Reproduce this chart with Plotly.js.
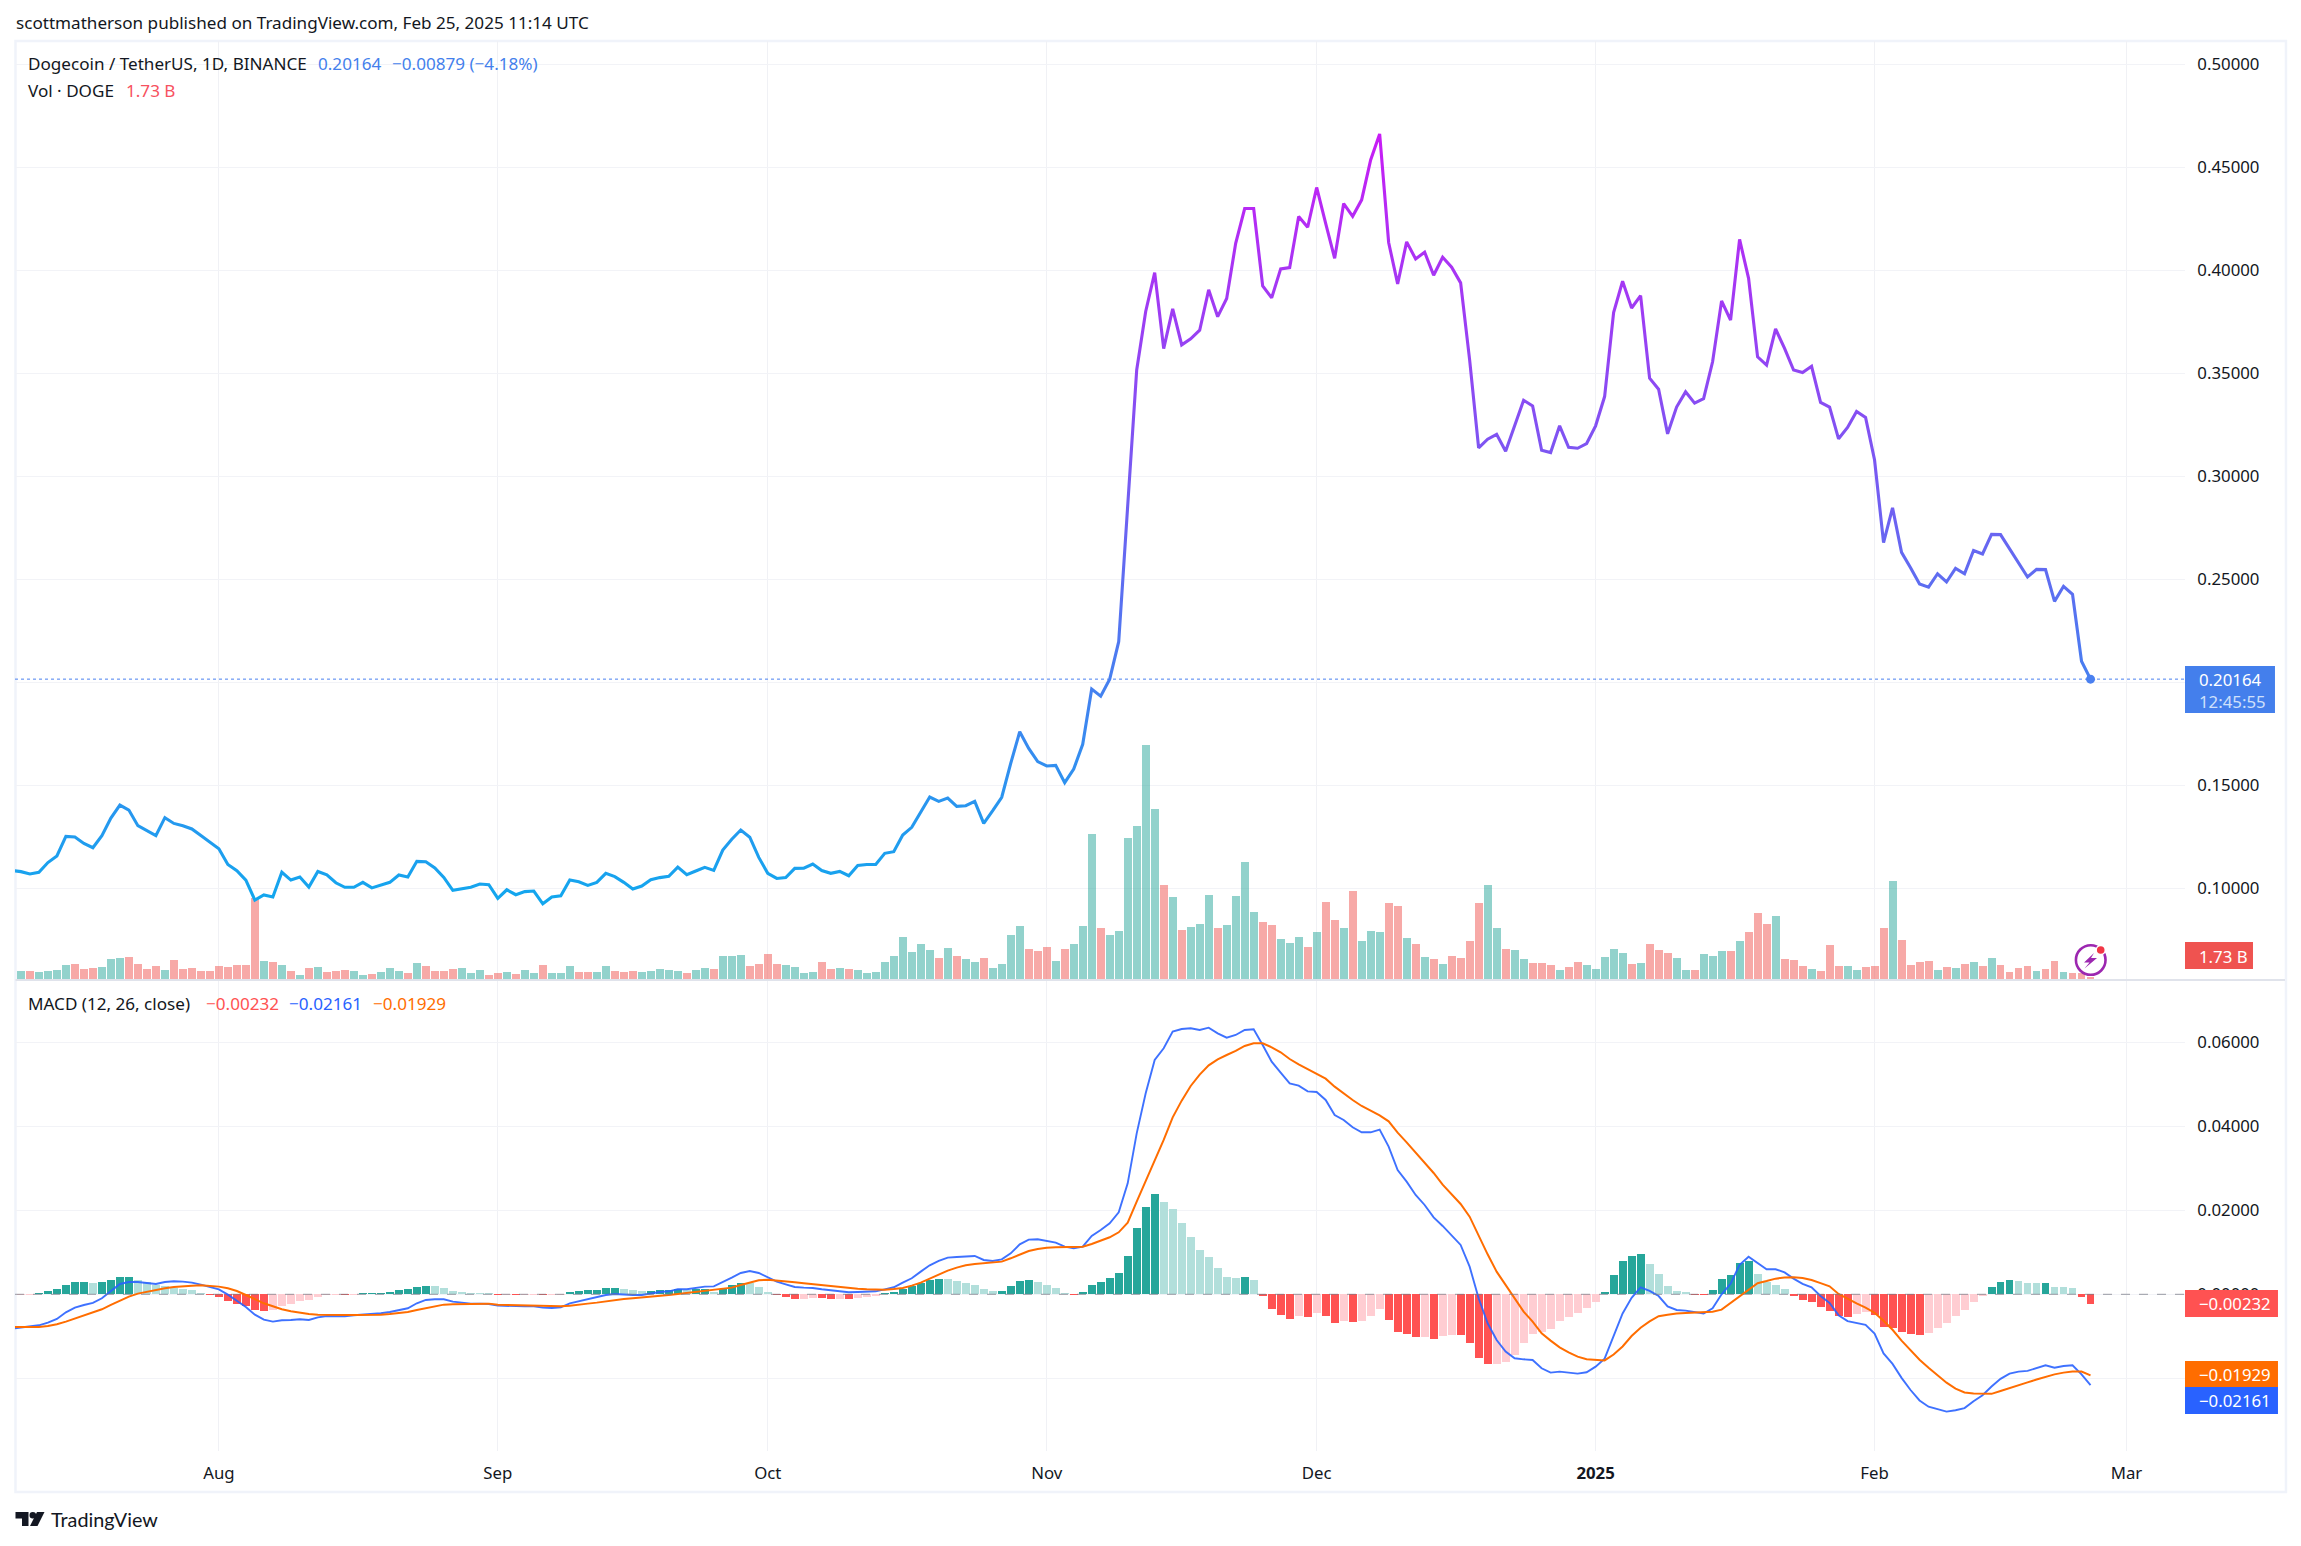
<!DOCTYPE html>
<html><head><meta charset="utf-8">
<script src="https://cdn.plot.ly/plotly-3.0.1.min.js"></script>
<style>html,body{margin:0;padding:0;background:#fff}#chart{width:2301px;height:1546px}</style>
</head><body><div id="chart"></div>
<script>
const firstDay = '2024-07-10';
const monthTicks = ['2024-08-01','2024-09-01','2024-10-01','2024-11-01','2024-12-01','2025-01-01','2025-02-01','2025-03-01'];
const monthLabels = ['Aug','Sep','Oct','Nov','Dec','<b>2025</b>','Feb','Mar'];

/* values of the day before the first bar: the lines run off the left edge of the pane */
const priceBefore = .1088, macdBefore = -.00817, signalBefore = -.00778;

const closePrice = [
.1082,.1071,.1079,.1126,.1158,.1253,.1250,.1219,.1198,.1257,
.1342,.1405,.1381,.1305,.1282,.1257,.1344,.1316,.1305,.1289,
.1257,.1223,.1193,.1117,.1087,.1041,.0944,.0969,.0959,.1079,
.1041,.1056,.1007,.1083,.1067,.1028,.1006,.1006,.1030,.1003,
.1015,.1030,.1066,.1056,.1132,.1130,.1100,.1054,.0991,.0998,
.1006,.1022,.1019,.0952,.0994,.0970,.0985,.0988,.0926,.0959,
.0965,.1041,.1033,.1015,.1030,.1074,.1058,.1030,.0998,.1012,
.1043,.1053,.1059,.1104,.1067,.1085,.1103,.1088,.1187,.1239,
.1284,.1249,.1151,.1074,.1049,.1053,.1098,.1099,.1119,.1087,
.1074,.1083,.1062,.1112,.1117,.1117,.1171,.1179,.1260,.1297,
.1371,.1444,.1423,.1439,.1399,.1402,.1423,.1316,.1378,.1443,
.1608,.1761,.1680,.1616,.1595,.1598,.1514,.1580,.1700,.1968,
.1934,.2016,.2198,.2837,.3517,.3801,.3990,.3621,.3814,.3639,
.3668,.3710,.3906,.3776,.3864,.4132,.4301,.4301,.3925,.3867,
.4008,.4014,.4262,.4210,.4403,.4229,.4059,.4325,.4263,.4343,
.4537,.4663,.4136,.3935,.4139,.4056,.4089,.3977,.4064,.4016,
.3940,.3566,.3139,.3181,.3205,.3123,.3246,.3370,.3343,.3127,
.3116,.3246,.3142,.3137,.3160,.3246,.3388,.3796,.3948,.3818,
.3878,.3477,.3424,.3207,.3337,.3411,.3356,.3378,.3557,.3852,
.3759,.4151,.3962,.3581,.3541,.3716,.3622,.3517,.3505,.3535,
.3360,.3337,.3183,.3238,.3316,.3287,.3080,.2679,.2848,.2632,
.2557,.2478,.2463,.2528,.2488,.2554,.2528,.2641,.2624,.2719,
.2718,.2651,.2580,.2512,.2549,.2548,.2394,.2467,.2428,.2103,
.20164];

const volume = [
.9,.9,.8,.9,1.0,1.5,1.6,1.1,1.2,1.3,
2.1,2.2,2.3,1.6,1.1,1.4,1.0,2.0,1.1,1.2,
.9,.9,1.4,1.3,1.5,1.5,8.2,1.9,1.8,1.5,
.9,.5,1.2,1.3,.8,.9,1.0,.9,.5,.6,
.8,1.2,.9,.7,1.7,1.4,.9,.9,1.1,1.2,
.7,1.0,.5,.7,.8,.6,1.0,.7,1.5,.7,
.7,1.4,.8,.8,.8,1.4,.9,.8,.9,.8,
.9,1.1,1.0,.9,.7,1.0,1.2,1.1,2.4,2.4,
2.5,1.4,1.6,2.6,1.6,1.5,1.3,.7,.8,1.8,
1.1,1.2,1.1,1.0,.7,.8,1.8,2.4,4.3,2.8,
3.6,3.0,2.2,3.2,2.4,2.1,1.8,2.2,1.2,1.6,
4.5,5.4,3.1,2.9,3.3,1.9,3.1,3.6,5.4,14.6,
5.2,4.5,4.9,14.2,15.4,23.5,17.1,9.5,8.3,5.0,
5.3,5.6,8.5,5.2,5.5,8.4,11.8,6.8,5.8,5.5,
4.1,3.7,4.3,3.3,4.8,7.8,6.0,5.2,8.9,3.9,
4.9,4.8,7.7,7.4,4.2,3.6,2.3,2.1,1.6,2.4,
2.2,3.9,7.7,9.5,5.2,3.1,3.0,2.1,1.7,1.7,
1.5,1.0,1.3,1.8,1.5,1.1,2.3,3.1,2.7,1.6,
1.7,3.6,3.0,2.7,2.2,1.0,1.0,2.6,2.4,2.9,
2.9,3.9,4.8,6.7,5.6,6.4,2.1,2.0,1.4,1.1,
.9,3.5,1.4,1.4,1.0,1.3,1.4,5.2,9.9,4.0,
1.5,1.8,1.9,1.0,1.3,1.2,1.6,1.8,1.4,2.2,
1.5,.8,1.2,1.4,.9,1.1,1.9,.8,.7,.7,
.3];

const macdHist = [
-.00024,-.00024,.00024,.00079,.00127,.00222,.00294,.00296,.0027,.00294,
.00341,.00413,.00414,.00341,.00294,.00222,.00198,.00151,.00127,.00103,
.00032,-.00024,-.00071,-.00151,-.0023,-.00278,-.00365,-.00389,-.00365,-.0027,
-.00222,-.00159,-.00135,-.00056,-.00024,-.00016,-.00018,-.00016,.00032,.00033,
.00034,.00056,.00103,.00127,.00175,.00198,.00197,.00151,.00079,.00056,
.00032,.00031,.0003,-.00024,-.00022,-.00026,-.00016,-.00015,-.00024,-.00016,
-.00015,.00048,.00079,.00103,.00104,.00151,.00152,.00127,.00103,.00079,
.00081,.00103,.00104,.00127,.00103,.00127,.00128,.00056,.00127,.00222,
.0027,.00269,.00175,.00056,-.00024,-.00071,-.00111,-.00111,-.00079,-.0008,
-.00111,-.0011,-.00112,-.00079,-.00056,-.00032,.0004,.00063,.00135,.00206,
.00278,.00341,.00365,.00364,.00317,.00278,.0023,.00135,.00087,.00088,
.00206,.00325,.00349,.00302,.0023,.00159,.0004,-.00016,.00063,.0023,
.00302,.00397,.00516,.00921,.01587,.02087,.02397,.02206,.0204,.01706,
.01373,.01063,.00897,.00635,.00421,.00397,.00421,.00349,-.0004,-.00341,
-.00484,-.00579,-.00508,-.00532,-.00437,-.00508,-.00675,-.00627,-.00651,-.00627,
-.00508,-.00341,-.00603,-.00889,-.00937,-.01008,-.01007,-.01056,-.00984,-.0096,
-.00962,-.01151,-.01508,-.01651,-.0165,-.01603,-.01437,-.0116,-.00936,-.00887,
-.00829,-.00638,-.00539,-.00439,-.00331,-.00182,.00058,.00456,.00787,.00912,
.00961,.00729,.00481,.00207,.00083,.00058,-.00008,-.0001,.00108,.00365,
.00456,.00746,.00787,.00481,.00282,.00224,.00124,-.00033,-.00141,-.00174,
-.00307,-.00398,-.00506,-.0053,-.00472,-.00414,-.00497,-.00779,-.00812,-.00887,
-.00936,-.0097,-.00928,-.00812,-.00688,-.00514,-.00373,-.00182,-.00041,.00182,
.0029,.0034,.00315,.00273,.00272,.00275,.00182,.00181,.00149,-.00066,
-.00232];

const macdLine = [
-.00794,-.0077,-.00738,-.00675,-.00587,-.00429,-.00317,-.00254,-.00206,-.00095,
.00079,.00246,.00294,.00294,.0027,.00246,.00294,.0031,.00302,.00278,
.0023,.00183,.00119,-.00008,-.00151,-.00302,-.00484,-.00603,-.00651,-.00619,
-.00611,-.00595,-.00611,-.00548,-.00516,-.00516,-.00524,-.005,-.00484,-.00476,
-.00452,-.00421,-.00373,-.00333,-.00214,-.00135,-.00119,-.00119,-.00175,-.00206,
-.00222,-.00222,-.0023,-.0027,-.00278,-.00294,-.00286,-.00286,-.00317,-.00325,
-.0031,-.00214,-.00167,-.00127,-.00071,-.00016,.00008,-.00008,-.00016,-.00016,
.00024,.00056,.00071,.00119,.00119,.00151,.00183,.0019,.00286,.00397,
.00508,.00556,.00508,.00405,.00302,.00238,.00175,.00159,.00151,.00119,
.00095,.00071,.00048,.00056,.00063,.00071,.00119,.00167,.00278,.00381,
.0054,.0069,.00794,.00873,.00889,.00897,.00913,.00817,.00794,.00833,
.00976,.0119,.01302,.0131,.01278,.0123,.01135,.01095,.01135,.01389,
.01532,.0169,.01952,.02643,.03833,.04786,.05579,.05857,.06254,.06317,
.06333,.06294,.06349,.06214,.06111,.06175,.06294,.0631,.05937,.0554,
.05278,.05024,.04968,.04833,.04817,.04627,.0427,.04151,.03976,.03857,
.03857,.0392,.03516,.0296,.02683,.02365,.02127,.01833,.01627,.01413,
.01175,.00659,-.00095,-.0069,-.01087,-.01365,-.01524,-.01548,-.01563,-.01762,
-.01865,-.01841,-.01873,-.01889,-.01857,-.01722,-.01533,-.00994,-.00456,-.00083,
.00166,.00083,-.00041,-.0029,-.00373,-.00389,-.00431,-.00456,-.00331,0,
.00249,.00704,.00895,.00746,.00597,.00597,.00522,.00373,.00249,.00166,
-.00041,-.00207,-.00497,-.00638,-.00688,-.00729,-.00936,-.01409,-.01657,-.01989,
-.02279,-.02528,-.02677,-.02735,-.02793,-.0276,-.0271,-.02544,-.02403,-.02196,
-.02014,-.01889,-.0184,-.01823,-.01757,-.01691,-.01749,-.01707,-.01691,-.01906,
-.02161];

const signalLine = [
-.00778,-.00778,-.00778,-.00754,-.00714,-.00651,-.00579,-.00508,-.00437,-.00357,
-.00254,-.00151,-.00056,.00016,.00063,.00103,.00143,.00175,.00198,.00206,
.00214,.00206,.00183,.00143,.00079,-.00016,-.00119,-.00214,-.00286,-.00357,
-.00405,-.00444,-.00468,-.00484,-.00492,-.00492,-.00492,-.00492,-.00492,-.00492,
-.00484,-.00468,-.00452,-.00421,-.00373,-.00325,-.00278,-.00246,-.00238,-.0023,
-.0023,-.00222,-.00222,-.00246,-.00254,-.00262,-.0027,-.00278,-.00286,-.00294,
-.00286,-.0027,-.00254,-.00222,-.00198,-.00167,-.00135,-.00111,-.00095,-.00079,
-.00056,-.0004,-.00016,.00008,.00032,.00048,.00071,.00095,.00119,.00159,
.00222,.00286,.00333,.00349,.00333,.0031,.00286,.00262,.00238,.00214,
.0019,.00167,.00143,.00135,.00119,.00111,.00111,.00127,.00151,.00206,
.00278,.00373,.00476,.00563,.00635,.0069,.00722,.00738,.00754,.00778,
.00857,.00952,.01032,.01079,.01111,.01119,.01119,.01119,.01135,.01198,
.01278,.01357,.01476,.01706,.02206,.02683,.03198,.03675,.04214,.04611,
.0496,.0523,.05452,.05595,.05698,.05794,.05913,.05976,.05976,.05881,
.05762,.05603,.05476,.05365,.05254,.05135,.04944,.04778,.04627,.04484,
.04365,.04262,.04119,.03849,.03619,.03373,.03135,.02889,.02611,.02373,
.02151,.01849,.01389,.00952,.0054,.00222,-.00095,-.00413,-.00651,-.00929,
-.01103,-.01262,-.01381,-.01484,-.01548,-.01563,-.01575,-.01434,-.01243,-.00994,
-.00796,-.00646,-.00522,-.00489,-.00456,-.00448,-.00431,-.00431,-.00414,-.00365,
-.00207,-.00041,.00108,.00265,.00315,.00373,.00398,.00406,.0039,.0034,
.00265,.00191,.00008,-.00108,-.00215,-.00315,-.00439,-.0063,-.00845,-.01102,
-.01342,-.01558,-.01749,-.01923,-.02105,-.02246,-.02337,-.02362,-.02362,-.0237,
-.02304,-.02229,-.02155,-.02097,-.0203,-.01964,-.01906,-.01865,-.0184,-.0184,
-.01929];

const priceTicks = [0.10,0.15,0.20,0.25,0.30,0.35,0.40,0.45,0.50];
const macdTicks = [-0.02,0,0.02,0.04,0.06];

const DAY = 86400000;
const startMs = Date.parse(firstDay + 'T00:00:00Z');
const dayStr = i => new Date(startMs + i * DAY).toISOString().slice(0, 10);
const dates = closePrice.map((_, i) => dayStr(i));
const lineDates = [dayStr(-1)].concat(dates);
const isUp = closePrice.map((v, i) => i === 0 || v >= closePrice[i - 1]);
const volColors = isUp.map(u => u ? 'rgba(38,166,154,0.5)' : 'rgba(239,83,80,0.5)');
const histColors = macdHist.map((v, i) => {
  const p = i ? macdHist[i - 1] : v;
  return v >= 0 ? (v > p ? '#26a69a' : '#b2dfdb') : (v < p ? '#ff5252' : '#ffcdd2');
});
const lastDate = dates[dates.length - 1], lastPrice = closePrice[closePrice.length - 1];

/* page geometry */
const L = 14.5, R = 2185, T = 41, B = 1451, SPLIT = 980;
const X = p => (p - L) / (R - L), Y = p => (B - p) / (B - T);
const FONT = '"Noto Sans", sans-serif', INK = '#131722';
const xRange = [new Date(startMs - 0.656 * DAY).toISOString(), new Date(startMs + 240.5 * DAY).toISOString()];

const barW = DAY * 0.88;
const data = [
  {type:'bar', name:'Vol', x:dates, y:volume, xaxis:'x2', yaxis:'y', width:barW, marker:{color:volColors, line:{width:0}}, hoverinfo:'skip'},
  {type:'scatter', mode:'lines', name:'Price', x:lineDates, y:[priceBefore].concat(closePrice), xaxis:'x2', yaxis:'y3', line:{color:'#5c6cf2', width:3.1, shape:'linear'}, hoverinfo:'skip'},
  {type:'scatter', mode:'markers', name:'Last', x:[lastDate], y:[lastPrice], xaxis:'x2', yaxis:'y3', marker:{color:'#4a80f0', size:9}, hoverinfo:'skip'},
  {type:'bar', name:'Histogram', x:dates, y:macdHist, xaxis:'x', yaxis:'y2', width:barW, marker:{color:histColors, line:{width:0}}, hoverinfo:'skip'},
  {type:'scatter', mode:'lines', name:'MACD', x:lineDates, y:[macdBefore].concat(macdLine), xaxis:'x', yaxis:'y2', line:{color:'#2962ff', width:1.9}, opacity:0.9, hoverinfo:'skip'},
  {type:'scatter', mode:'lines', name:'Signal', x:lineDates, y:[signalBefore].concat(signalLine), xaxis:'x', yaxis:'y2', line:{color:'#ff6d00', width:2}, hoverinfo:'skip'}
];

const txt = (x, y, text, color, size, extra) => Object.assign({
  xref:'paper', yref:'paper', x:X(x), y:Y(y), text:text, showarrow:false, xanchor:'left', yanchor:'middle',
  font:{family:FONT, size:size || 17.1, color:color || INK}, borderpad:0
}, extra || {});
const rect = (x0, y0, x1, y1, fill) => ({type:'rect', xref:'paper', yref:'paper', x0:X(x0), x1:X(x1), y0:Y(y0), y1:Y(y1), fillcolor:fill, line:{width:0}, layer:'above'});
const hline = (x0, x1, y, color, w) => ({type:'line', xref:'paper', yref:'paper', x0:X(x0), x1:X(x1), y0:Y(y), y1:Y(y), line:{color:color, width:w}, layer:'above'});
const poly = (pts, fill) => ({type:'path', xref:'paper', yref:'paper', layer:'above', fillcolor:fill, line:{width:0},
  path:'M' + pts.map(q => X(q[0]) + ' ' + Y(q[1])).join(' L') + ' Z'});
const disc = (cx, cy, r, fill, line, w) => ({type:'circle', xref:'paper', yref:'paper', layer:'above', x0:X(cx - r), x1:X(cx + r), y0:Y(cy - r), y1:Y(cy + r),
  fillcolor:fill, line:{color:line || fill, width:w || 0}});

const shapes = [
  {type:'rect', xref:'paper', yref:'paper', x0:X(15), x1:X(2286), y0:Y(41), y1:Y(1492), line:{color:'#f0f3fa', width:2.5}, fillcolor:'rgba(0,0,0,0)', layer:'below'},
  hline(15, 2285, SPLIT, '#e0e3eb', 2),
  {type:'line', xref:'paper', yref:'y3', x0:0, x1:1, y0:lastPrice, y1:lastPrice, line:{color:'#4a80f0', width:1, dash:'dot'}, layer:'above'},
  {type:'line', xref:'paper', yref:'y2', x0:0, x1:1, y0:0, y1:0, line:{color:'rgba(120,123,134,0.6)', width:1.2, dash:'dash'}, layer:'above'},
  rect(2185, 666, 2275, 713, '#447fec'),
  rect(2185, 942, 2253, 969, '#ef5350'),
  rect(2185, 1290, 2278, 1317, '#ff5252'),
  rect(2185, 1361, 2278, 1387, '#ff6d00'),
  rect(2185, 1387, 2278, 1414, '#2962ff'),
  disc(2090.7, 960, 14.8, 'rgba(0,0,0,0)', '#9c27b0', 2.6),
  disc(2100.7, 950, 5.2, '#ffffff'),
  disc(2100.7, 950, 3.8, '#f23645'),
  poly([[2094,953],[2084,962.5],[2089.5,962.5],[2084.5,968.5],[2097,958],[2091,958]], '#9c27b0'),
  poly([[15,1512],[28,1512],[28,1526],[21.5,1526],[21.5,1518.5],[15,1518.5]], '#131722'),
  disc(32.3, 1515.3, 3.3, '#131722'),
  poly([[36.5,1512],[44,1512],[37,1526],[29.5,1526]], '#131722')
];

const annotations = [
  txt(15, 22.5, 'scottmatherson published on TradingView.com, Feb 25, 2025 11:14 UTC'),
  txt(27, 63, 'Dogecoin / TetherUS, 1D, BINANCE'),
  txt(317, 63, '0.20164', '#447fec'),
  txt(391, 63, '−0.00879 (−4.18%)', '#447fec'),
  txt(27, 90, 'Vol · DOGE'),
  txt(125, 90, '1.73 B', '#f7525f'),
  txt(27, 1004, 'MACD (12, 26, close)'),
  txt(205, 1004, '−0.00232', '#ff5252'),
  txt(288, 1004, '−0.02161', '#2962ff'),
  txt(372, 1004, '−0.01929', '#ff6d00'),
  txt(2198, 679, '0.20164', '#ffffff', 16.8),
  txt(2198, 701, '12:45:55', '#cfe0fb', 16.8),
  txt(2198, 956, '1.73 B', '#ffffff', 16.8),
  txt(2198, 1303, '−0.00232', '#ffffff', 16.8),
  txt(2198, 1374, '−0.01929', '#ffffff', 16.8),
  txt(2198, 1400, '−0.02161', '#ffffff', 16.8),
  txt(50, 1519, 'TradingView', '#131722', 19.8, {font:{family:'Lato, sans-serif', size:19.8, color:'#131722'}})
];

const gridH = '#f2f3f7', gridV = '#f0f1f5';
const xCommon = {type:'date', range:xRange, tickmode:'array', tickvals:monthTicks, ticktext:monthLabels, showgrid:true, gridcolor:gridV, gridwidth:1,
  zeroline:false, showline:false, fixedrange:true, tickfont:{family:FONT, size:16.8, color:INK}};
const yCommon = {zeroline:false, showline:false, fixedrange:true, side:'right', tickfont:{family:FONT, size:16.8, color:INK},
  ticks:'outside', ticklen:8, tickwidth:1, tickcolor:'rgba(0,0,0,0)', showgrid:true, gridcolor:gridH, gridwidth:1.4};

const layout = {
  width:2301, height:1546, margin:{l:L, r:2301 - R, t:T, b:1546 - B, pad:0},
  paper_bgcolor:'#ffffff', plot_bgcolor:'#ffffff', showlegend:false, barmode:'overlay', bargap:0,
  xaxis:Object.assign({}, xCommon, {anchor:'y2', domain:[0,1], ticks:'outside', ticklen:7, tickcolor:'rgba(0,0,0,0)', showticklabels:true}),
  xaxis2:Object.assign({}, xCommon, {anchor:'y', domain:[0,1], showticklabels:false, ticks:''}),
  yaxis:{domain:[(B - SPLIT) / (B - T), 1], anchor:'x2', range:[0, 93.9], visible:false, showgrid:false, zeroline:false, fixedrange:true},
  yaxis2:Object.assign({}, yCommon, {domain:[0, (B - SPLIT - 1) / (B - T)], anchor:'x', range:[-0.03731, 0.07460], tickmode:'array', tickvals:macdTicks, tickformat:'.5f'}),
  yaxis3:Object.assign({}, yCommon, {overlaying:'y', anchor:'x2', range:[0.0556, 0.5114], tickmode:'array', tickvals:priceTicks, tickformat:'.5f'}),
  shapes:shapes, annotations:annotations, hovermode:false
};

const gd = document.getElementById('chart');
Plotly.newPlot(gd, data, layout, {staticPlot:true, displayModeBar:false}).then(() => {
  const ya = gd._fullLayout.yaxis3;
  const svg = gd.querySelector('svg.main-svg');
  let defs = svg.querySelector('defs');
  const NS = 'http://www.w3.org/2000/svg';
  const grad = document.createElementNS(NS, 'linearGradient');
  grad.setAttribute('id', 'priceGradient');
  grad.setAttribute('gradientUnits', 'userSpaceOnUse');
  grad.setAttribute('x1', 0); grad.setAttribute('x2', 0);
  grad.setAttribute('y1', ya.c2p(0.094)); grad.setAttribute('y2', ya.c2p(0.466));
  [['0', '#12a7ee'], ['1', '#c81cf5']].forEach(s => {
    const st = document.createElementNS(NS, 'stop');
    st.setAttribute('offset', s[0]); st.setAttribute('stop-color', s[1]); grad.appendChild(st);
  });
  defs.appendChild(grad);
  gd.querySelectorAll('.scatterlayer .trace').forEach(t => {
    const d = t.__data__;
    if (d && d[0] && d[0].trace && d[0].trace.name === 'Price') {
      const p = t.querySelector('path.js-line');
      if (p) { p.style.stroke = 'url(#priceGradient)'; p.style.strokeLinejoin = 'miter'; }
    }
  });
});
</script></body></html>
